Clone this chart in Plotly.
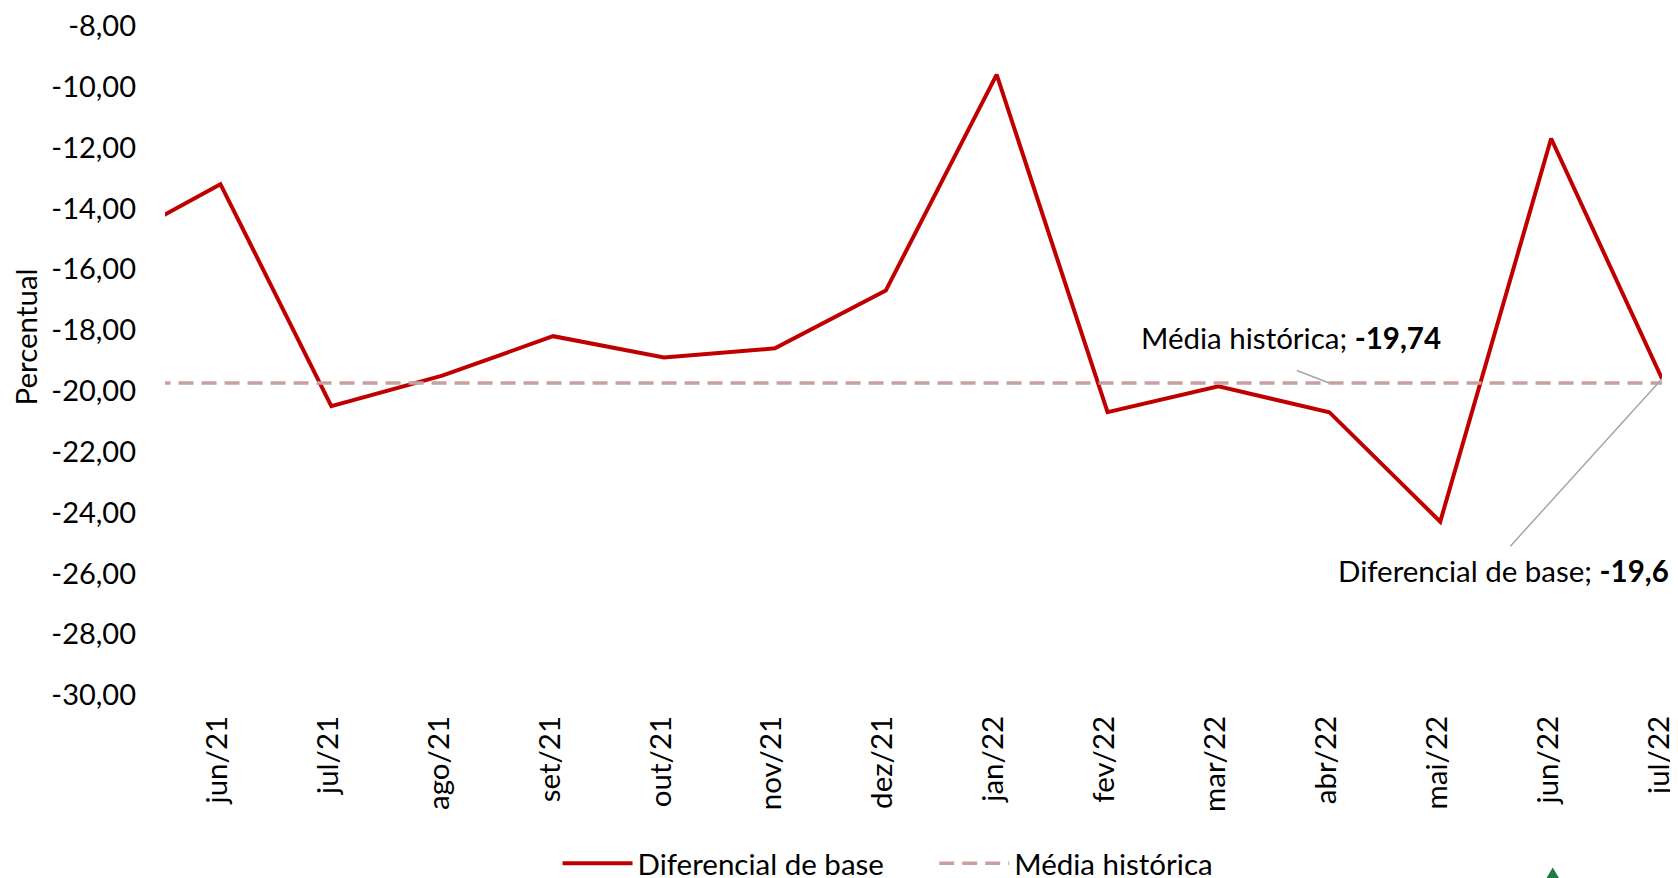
import plotly.graph_objects as go

# ---- data ----
categories = ["mai/21", "jun/21", "jul/21", "ago/21", "set/21", "out/21", "nov/21", "dez/21",
              "jan/22", "fev/22", "mar/22", "abr/22", "mai/22", "jun/22", "jul/22"]
diferencial = [-15.2, -13.2, -20.5, -19.5, -18.2, -18.9, -18.6, -16.7,
               -9.6, -20.7, -19.85, -20.7, -24.3, -11.7, -19.6]
media_valor = -19.74
media = [media_valor] * len(categories)
y_ticks = [-8, -10, -12, -14, -16, -18, -20, -22, -24, -26, -28, -30]
y_ticktext = [f"{v:.2f}".replace(".", ",") for v in y_ticks]
x_ticks = categories[1:]

FONT = "Lato"
FS = 29.5
NB = "\u00a0"

fig = go.Figure()
fig.add_trace(go.Scatter(x=categories, y=diferencial, mode="lines", name="Diferencial de base" + NB * 6,
                         line=dict(color="#C00000", width=4)))
fig.add_trace(go.Scatter(x=categories, y=media, mode="lines", name="Média histórica",
                         line=dict(color="#C9A0A0", width=3.5, dash="15px,8px")))

# labels
fig.add_annotation(xref="paper", yref="paper", x=0.7523, y=0.534, xanchor="center", yanchor="middle",
                   text=f"Média histórica; <b>{str(media_valor).replace('.', ',')}</b>",
                   showarrow=False, font=dict(family=FONT, size=FS, color="#000000"))
fig.add_annotation(x=categories[11], y=media_valor, xref="x", yref="y", text="",
                   showarrow=True, arrowhead=0, arrowwidth=1.5, arrowcolor="#A6A6A6", ax=-34, ay=-13)
fig.add_annotation(xref="paper", yref="paper", x=1.006, y=0.1866, xanchor="right", yanchor="middle",
                   text=f"Diferencial de base; <b>{str(diferencial[-1]).replace('.', ',')}</b>",
                   showarrow=False, font=dict(family=FONT, size=FS, color="#000000"))
fig.add_annotation(x=categories[-1], y=diferencial[-1], xref="x", yref="y", text="",
                   showarrow=True, arrowhead=0, arrowwidth=1.5, arrowcolor="#A6A6A6", ax=-153, ay=169)
fig.add_annotation(xref="paper", yref="paper", x=-0.0933, y=0.535, xanchor="center", yanchor="middle",
                   text="Percentual", textangle=-90, showarrow=False,
                   font=dict(family=FONT, size=FS, color="#000000"))

# small logo fragment at the bottom edge
fig.add_shape(type="path", xref="paper", yref="paper",
              path="M 0.9270,-0.2580 L 0.9222,-0.2760 L 0.9318,-0.2760 Z",
              fillcolor="#1E7B45", line=dict(width=0))

# the page places the figure 8px from the top-left corner
fig.update_layout(
    width=1670, height=870,
    margin=dict(l=156.5, r=16, t=18, b=183, autoexpand=False),
    paper_bgcolor="white", plot_bgcolor="white",
    font=dict(family=FONT, size=FS, color="#000000"),
    showlegend=True,
    legend=dict(orientation="h", x=0.483, y=-0.252, xanchor="center", yanchor="middle",
                font=dict(family=FONT, size=FS), bgcolor="rgba(0,0,0,0)", itemwidth=70,
                tracegroupgap=0),
)
fig.update_xaxes(type="category", range=[0.5, 14], tickmode="array", tickvals=x_ticks, ticktext=x_ticks,
                 tickangle=-90, showgrid=False, zeroline=False, showline=False, ticks="",
                 automargin=False, ticklabelstandoff=14, ticklabelshift=-3, ticklabeloverflow="allow",
                 tickfont=dict(family=FONT, size=FS))
fig.update_yaxes(range=[-30, -8], tickmode="array", tickvals=y_ticks, ticktext=y_ticktext,
                 showgrid=False, zeroline=False, showline=False, ticks="",
                 automargin=False, ticklabelstandoff=28, ticklabeloverflow="allow",
                 tickfont=dict(family=FONT, size=29))

fig.write_html("out.html")
